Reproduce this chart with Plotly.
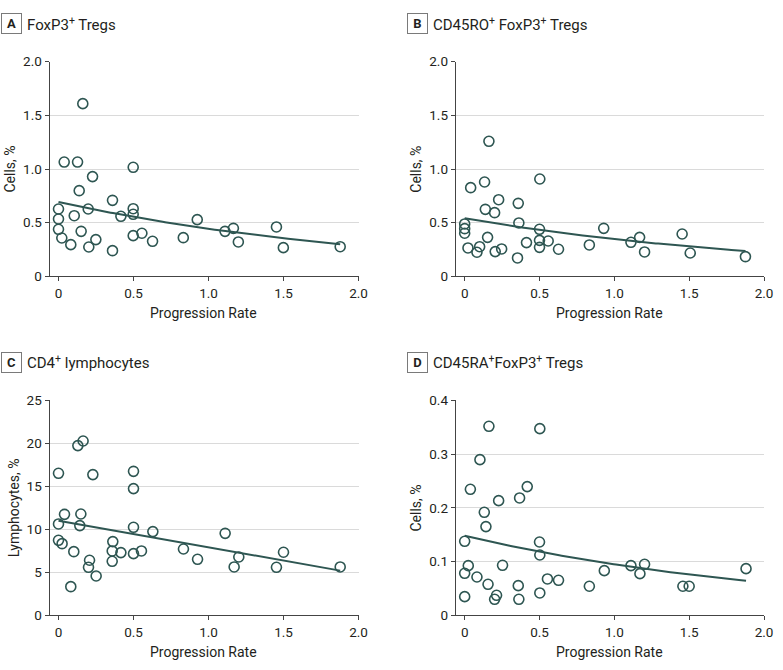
import numpy as np
import plotly.graph_objects as go

# ---------------- data ----------------
a_x = [0, 0, 0, 0.022, 0.038, 0.082, 0.105, 0.127, 0.138, 0.151, 0.162, 0.198, 0.202, 0.227, 0.249,
       0.360, 0.360, 0.416, 0.498, 0.498, 0.498, 0.498, 0.556, 0.627, 0.832, 0.925, 1.110, 1.166,
       1.199, 1.453, 1.499, 1.878]
a_y = [0.627, 0.534, 0.438, 0.357, 1.065, 0.295, 0.565, 1.065, 0.798, 0.419, 1.609, 0.627, 0.273, 0.929, 0.342,
       0.708, 0.239, 0.559, 1.016, 0.630, 0.578, 0.379, 0.401, 0.326, 0.360, 0.528, 0.419, 0.447,
       0.320, 0.460, 0.267, 0.276]

b_x = [0, 0, 0, 0.022, 0.040, 0.082, 0.100, 0.133, 0.138, 0.153, 0.162, 0.200, 0.204, 0.227, 0.247,
       0.358, 0.362, 0.353, 0.413, 0.502, 0.500, 0.500, 0.500, 0.558, 0.627, 0.833, 0.929, 1.111,
       1.169, 1.202, 1.453, 1.507, 1.876]
b_y = [0.488, 0.444, 0.401, 0.264, 0.826, 0.224, 0.276, 0.879, 0.624, 0.363, 1.258, 0.593, 0.230, 0.714, 0.255,
       0.680, 0.497, 0.171, 0.314, 0.907, 0.438, 0.335, 0.270, 0.329, 0.252, 0.292, 0.447, 0.317,
       0.363, 0.227, 0.394, 0.217, 0.183]

c_x = [0, 0, 0, 0.024, 0.040, 0.082, 0.102, 0.129, 0.142, 0.149, 0.164, 0.200, 0.207, 0.229, 0.251,
       0.362, 0.358, 0.358, 0.416, 0.500, 0.500, 0.500, 0.500, 0.553, 0.629, 0.833, 0.927, 1.111,
       1.171, 1.202, 1.453, 1.500, 1.878]
c_y = [16.51, 10.62, 8.72, 8.33, 11.74, 3.33, 7.40, 19.73, 10.43, 11.78, 20.27, 5.58, 6.40, 16.36, 4.57,
       8.57, 7.48, 6.28, 7.29, 16.74, 14.73, 10.23, 7.17, 7.48, 9.73, 7.71, 6.51, 9.53,
       5.62, 6.78, 5.58, 7.33, 5.62]

d_x = [0, 0, 0, 0.024, 0.038, 0.082, 0.102, 0.131, 0.142, 0.156, 0.162, 0.200, 0.213, 0.227, 0.253,
       0.367, 0.358, 0.362, 0.418, 0.502, 0.500, 0.502, 0.502, 0.553, 0.627, 0.833, 0.933, 1.111,
       1.171, 1.202, 1.458, 1.500, 1.880]
d_y = [0.1377, 0.0781, 0.0347, 0.0924, 0.2344, 0.0713, 0.2896, 0.1916, 0.165, 0.0577, 0.3516, 0.0298, 0.0372,
       0.2133, 0.093, 0.2183, 0.0552, 0.0298, 0.2394, 0.3473, 0.1364, 0.1122, 0.0416, 0.0676, 0.0651,
       0.054, 0.0831, 0.0924, 0.0775, 0.0949, 0.054, 0.054, 0.0868]

# fitted trend parameters: (model, intercept, coefficient)
a_fit = ("exp", 0.693, -0.448)
b_fit = ("exp", 0.540, -0.443)
c_fit = ("lin", 11.0, -3.09)
d_fit = ("exp", 0.148, -0.445)

panel_letters = ["A", "B", "C", "D"]
panel_titles = ["FoxP3<sup>+</sup> Tregs", "CD45RO<sup>+</sup> FoxP3<sup>+</sup> Tregs",
                "CD4<sup>+</sup> lymphocytes", "CD45RA<sup>+</sup>FoxP3<sup>+</sup> Tregs"]
y_titles = ["Cells, %", "Cells, %", "Lymphocytes, %", "Cells, %"]
x_title = "Progression Rate"
x_tickvals = [0, 0.5, 1.0, 1.5, 2.0]
x_ticktext = ["0", "0.5", "1.0", "1.5", "2.0"]
y_ticks = [
    ([0, 0.5, 1.0, 1.5, 2.0], ["0", "0.5", "1.0", "1.5", "2.0"]),
    ([0, 0.5, 1.0, 1.5, 2.0], ["0", "0.5", "1.0", "1.5", "2.0"]),
    ([0, 5, 10, 15, 20, 25], ["0", "5", "10", "15", "20", "25"]),
    ([0, 0.1, 0.2, 0.3, 0.4], ["0", "0.1", "0.2", "0.3", "0.4"]),
]
y_ranges = [[0, 2.0], [0, 2.0], [0, 25], [0, 0.4]]

# ---------------- figure ----------------
W, H = 783, 670
COL = "#2e5652"
TXT = "#231f20"
FONT = "Roboto"
TICK_FS = 13.5
TITLE_FS = 14

# plot-area pixel boxes (left, right, top, bottom)
boxes = [(49.5, 358.5, 61.7, 276.3), (455.7, 764.0, 61.7, 276.3),
         (49.5, 358.5, 400.3, 615.3), (455.7, 764.0, 400.3, 615.3)]

fig = go.Figure()
layout = dict(width=W, height=H, margin=dict(l=0, r=0, t=0, b=0), template="none",
              paper_bgcolor="white", plot_bgcolor="white", showlegend=False,
              font=dict(family=FONT, size=TICK_FS, color=TXT))

datasets = [(a_x, a_y, a_fit), (b_x, b_y, b_fit), (c_x, c_y, c_fit), (d_x, d_y, d_fit)]
annotations = []
for i, ((xs, ys, fit), box) in enumerate(zip(datasets, boxes)):
    n = "" if i == 0 else str(i + 1)
    xa, ya = "x" + n, "y" + n
    l, r, t, b = box
    layout["xaxis" + n] = dict(
        domain=[l / W, r / W], range=[-0.06, 2.0], anchor=ya, automargin=False,
        tickvals=x_tickvals, ticktext=x_ticktext, ticks="outside", ticklen=4,
        tickcolor="#444", showline=True, linecolor="#444", linewidth=1,
        showgrid=False, zeroline=False, tickfont=dict(size=TICK_FS, color=TXT))
    layout["yaxis" + n] = dict(
        domain=[1 - b / H, 1 - t / H], range=y_ranges[i], anchor=xa, automargin=False,
        tickvals=y_ticks[i][0], ticktext=y_ticks[i][1], ticks="outside", ticklen=4,
        tickcolor="#444", showline=True, linecolor="#444", linewidth=1,
        showgrid=True, gridcolor="#dadada", gridwidth=1, zeroline=False,
        tickfont=dict(size=TICK_FS, color=TXT))

    fig.add_trace(go.Scatter(
        x=xs, y=ys, mode="markers", xaxis=xa, yaxis=ya,
        marker=dict(symbol="circle-open", size=10, color=COL, line=dict(width=1.6, color=COL))))

    kind, p0, p1 = fit
    gx = np.linspace(min(xs), max(xs), 120)
    gy = p0 * np.exp(p1 * gx) if kind == "exp" else p0 + p1 * gx
    fig.add_trace(go.Scatter(x=gx, y=gy, mode="lines", xaxis=xa, yaxis=ya,
                             line=dict(color=COL, width=2)))

    # panel label box and title
    ox = 0 if i % 2 == 0 else 406
    oy = 0 if i < 2 else 339
    annotations.append(dict(
        text="<b>" + panel_letters[i] + "</b>", x=(ox + 11) / W, y=1 - (oy + 23.5) / H,
        xref="paper", yref="paper", showarrow=False, xanchor="center", yanchor="middle",
        width=17, height=17, bordercolor="#7a7a7a", borderwidth=1, borderpad=1,
        font=dict(size=13, color=TXT, family=FONT)))
    annotations.append(dict(
        text=panel_titles[i], x=(ox + 25) / W, y=1 - (oy + 23.5) / H,
        xref="paper", yref="paper", showarrow=False, xanchor="left", yanchor="middle",
        font=dict(size=15, color=TXT, family=FONT)))
    # axis titles
    annotations.append(dict(
        text=x_title, x=(l + r) / 2 / W, y=1 - (b + 37) / H,
        xref="paper", yref="paper", showarrow=False, xanchor="center", yanchor="middle",
        font=dict(size=TITLE_FS, color=TXT, family=FONT)))
    ytx = l - 40 if i != 2 else l - 36
    annotations.append(dict(
        text=y_titles[i], x=ytx / W, y=1 - (t + b) / 2 / H, textangle=-90,
        xref="paper", yref="paper", showarrow=False, xanchor="center", yanchor="middle",
        font=dict(size=TITLE_FS, color=TXT, family=FONT)))

layout["annotations"] = annotations
fig.update_layout(**layout)
fig.write_html("out.html", config={"displayModeBar": False},
               post_script="document.body.style.margin='0';")
